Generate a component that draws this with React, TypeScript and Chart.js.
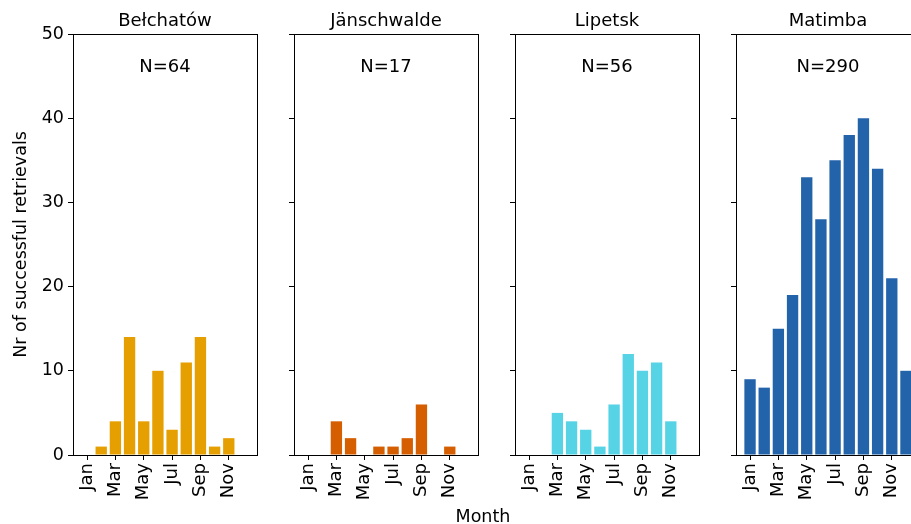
import React, { useEffect, useRef } from "react";
import { Chart, registerables } from "chart.js";

Chart.register(...registerables);

const monthLabels = ["Jan", "Feb", "Mar", "Apr", "May", "Jun", "Jul", "Aug", "Sep", "Oct", "Nov", "Dec"];
const monthNumbers = [1, 2, 3, 4, 5, 6, 7, 8, 9, 10, 11, 12];
const xTickMonths = [1, 3, 5, 7, 9, 11];
const yTickValues = [0, 10, 20, 30, 40, 50];

const siteNames = ["Bełchatów", "Jänschwalde", "Lipetsk", "Matimba"];
const belchatow = [0, 1, 4, 14, 4, 10, 3, 11, 14, 1, 2, 0];
const janschwalde = [0, 0, 4, 2, 0, 1, 1, 2, 6, 0, 1, 0];
const lipetsk = [0, 0, 5, 4, 3, 1, 6, 12, 10, 11, 4, 0];
const matimba = [9, 8, 15, 19, 33, 28, 35, 38, 40, 34, 21, 10];
const siteSeries = [belchatow, janschwalde, lipetsk, matimba];
const siteColors = ["#E69F00", "#D55E00", "#57D3E6", "#2363AA"];

const FONT = "'DejaVu Sans', sans-serif";
const PLOT_TOP = 34;
const PLOT_BOTTOM = 455;
const PLOT_W = 184;
const FIRST_LEFT = 73;
const STEP = 221;
const H = 524;
const RIGHT_PAD = 6;

function Panel({ index }: { index: number }) {
  const ref = useRef<HTMLCanvasElement | null>(null);
  const leftAxis = index === 0 ? FIRST_LEFT : 12;
  const canvasLeft = FIRST_LEFT + STEP * index - leftAxis;
  const canvasWidth = leftAxis + PLOT_W + RIGHT_PAD;

  useEffect(() => {
    if (!ref.current) return;
    const values = siteSeries[index];
    const total = values.reduce((a, b) => a + b, 0);
    const boxPlugin = {
      id: "boxAndText" + index,
      afterDraw(chart: any) {
        const { ctx, chartArea } = chart;
        ctx.save();
        ctx.strokeStyle = "#000";
        ctx.lineWidth = 1;
        const l = Math.round(chartArea.left) + 0.5;
        const t = Math.round(chartArea.top) + 0.5;
        const r = Math.round(chartArea.right) + 0.5;
        const b = Math.round(chartArea.bottom) + 0.5;
        ctx.strokeRect(l, t, r - l, b - t);
        const cx = (chartArea.left + chartArea.right) / 2;
        ctx.fillStyle = "#000";
        ctx.font = `18px ${FONT}`;
        ctx.textAlign = "center";
        ctx.textBaseline = "middle";
        ctx.fillText(siteNames[index], cx, 21);
        ctx.fillText("N=" + total, cx, 67);
        ctx.restore();
      },
    };
    const chart = new Chart(ref.current, {
      type: "bar",
      data: {
        datasets: [
          {
            data: monthNumbers.map((m, i) => ({ x: m, y: values[i] })),
            backgroundColor: siteColors[index],
            borderWidth: 0,
            barPercentage: 0.8,
            categoryPercentage: 1.0,
          },
        ],
      },
      options: {
        responsive: false,
        maintainAspectRatio: false,
        animation: false,
        layout: { padding: { top: PLOT_TOP, right: RIGHT_PAD, left: 0, bottom: 0 } },
        plugins: {
          legend: { display: false },
          tooltip: { enabled: false },
          title: { display: false },
        },
        scales: {
          x: {
            type: "linear",
            min: 0.01,
            max: 12.99,
            offset: false,
            afterBuildTicks: (s: any) => {
              s.ticks = xTickMonths.map((v) => ({ value: v }));
            },
            afterFit: (s: any) => {
              s.height = H - PLOT_BOTTOM;
            },
            ticks: {
              autoSkip: false,
              minRotation: 90,
              maxRotation: 90,
              padding: 3,
              color: "#000",
              font: { family: FONT, size: 18 },
              callback: (v: any) => monthLabels[Number(v) - 1],
            },
            grid: { drawOnChartArea: false, drawTicks: true, tickLength: 5, color: "#000", offset: false },
            border: { display: true, color: "#000", width: 1 },
          },
          y: {
            min: 0,
            max: 50,
            afterBuildTicks: (s: any) => {
              s.ticks = yTickValues.map((v) => ({ value: v }));
            },
            afterFit: (s: any) => {
              s.width = leftAxis;
            },
            ticks: {
              display: index === 0,
              padding: 4,
              color: "#000",
              font: { family: FONT, size: 17.5 },
            },
            grid: { drawOnChartArea: false, drawTicks: true, tickLength: 5, color: "#000" },
            border: { display: true, color: "#000", width: 1 },
            title: {
              display: index === 0,
              text: "Nr of successful retrievals",
              color: "#000",
              font: { family: FONT, size: 17.5 },
              padding: { top: 11, bottom: 0 },
            },
          },
        },
      },
      plugins: [boxPlugin],
    } as any);
    return () => chart.destroy();
  }, [index]);

  return (
    <canvas
      ref={ref}
      width={canvasWidth}
      height={H}
      style={{ position: "absolute", left: canvasLeft, top: 0, width: canvasWidth, height: H }}
    />
  );
}

export default function App() {
  return (
    <div
      style={{
        position: "fixed",
        left: 0,
        top: 0,
        width: 911,
        height: 524,
        overflow: "hidden",
        background: "#fff",
      }}
    >
      {siteNames.map((_, i) => (
        <Panel key={i} index={i} />
      ))}
      <div
        style={{
          position: "absolute",
          left: 383,
          width: 200,
          top: 506,
          height: 20,
          lineHeight: "20px",
          textAlign: "center",
          fontFamily: FONT,
          fontSize: 17.5,
          color: "#000",
        }}
      >
        Month
      </div>
    </div>
  );
}
